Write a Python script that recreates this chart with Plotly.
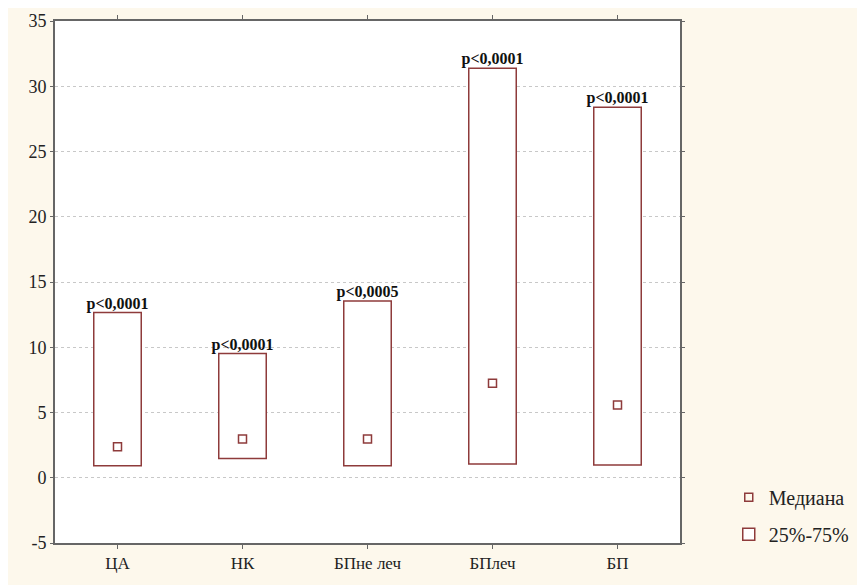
import plotly.graph_objects as go

categories = ["ЦА", "НК", "БПне леч", "БПлеч", "БП"]
q25 = [0.92, 1.48, 0.92, 1.05, 0.97]
q75 = [12.66, 9.52, 13.55, 31.37, 28.4]
median = [2.37, 2.96, 2.96, 7.25, 5.57]
p_labels = ["p<0,0001", "p<0,0001", "p<0,0005", "p<0,0001", "p<0,0001"]
y_ticks = [-5, 0, 5, 10, 15, 20, 25, 30, 35]

box_color = "#8E3B3B"
font_serif = "Liberation Serif, Times New Roman, serif"

fig = go.Figure()
fig.add_trace(go.Bar(
    x=categories, y=[t - b for t, b in zip(q75, q25)], base=q25,
    width=0.38, marker=dict(color="white", line=dict(color=box_color, width=1.5)),
    name="25%-75%", showlegend=True, legendgroup="b", legendrank=2,
))
fig.add_trace(go.Scatter(
    x=categories, y=median, mode="markers",
    marker=dict(symbol="square-open", size=8, color=box_color, line=dict(width=1.5)),
    name="Медиана", legendgroup="a", legendrank=1,
))
fig.add_trace(go.Scatter(
    x=categories, y=q75, mode="text", text=["<b>" + p + "</b>" for p in p_labels],
    textposition="top center",
    textfont=dict(family=font_serif, size=16, color="#111"),
    showlegend=False, cliponaxis=False,
))

fig.update_layout(
    width=865, height=585,
    margin=dict(l=47, r=193, t=13, b=50, autoexpand=False),
    paper_bgcolor="#FDF8EC", plot_bgcolor="white",
    font=dict(family=font_serif, size=16, color="#222"),
    legend=dict(x=1.078, y=0.125, xanchor="left", yanchor="top",
                font=dict(size=20, family=font_serif, color="#222"), traceorder="grouped",
                bgcolor="rgba(0,0,0,0)", itemwidth=30, tracegroupgap=8),
)
fig.update_xaxes(range=[-0.5, 4.5], showline=True, linecolor="#666", linewidth=2,
                 mirror="ticks", ticks="outside", ticklen=4, tickcolor="#666",
                 showgrid=False, tickfont=dict(size=17, family=font_serif))
fig.update_yaxes(range=[-5, 35], tickvals=y_ticks, ticktext=[str(v) for v in y_ticks],
                 showline=True, linecolor="#666",
                 linewidth=2, mirror="ticks", ticks="outside", ticklen=3, tickcolor="#666",
                 showgrid=True, gridcolor="#C8C8C8", griddash="dot", gridwidth=1,
                 zeroline=False, tickfont=dict(size=18, family=font_serif))

fig.write_html("out.html")
